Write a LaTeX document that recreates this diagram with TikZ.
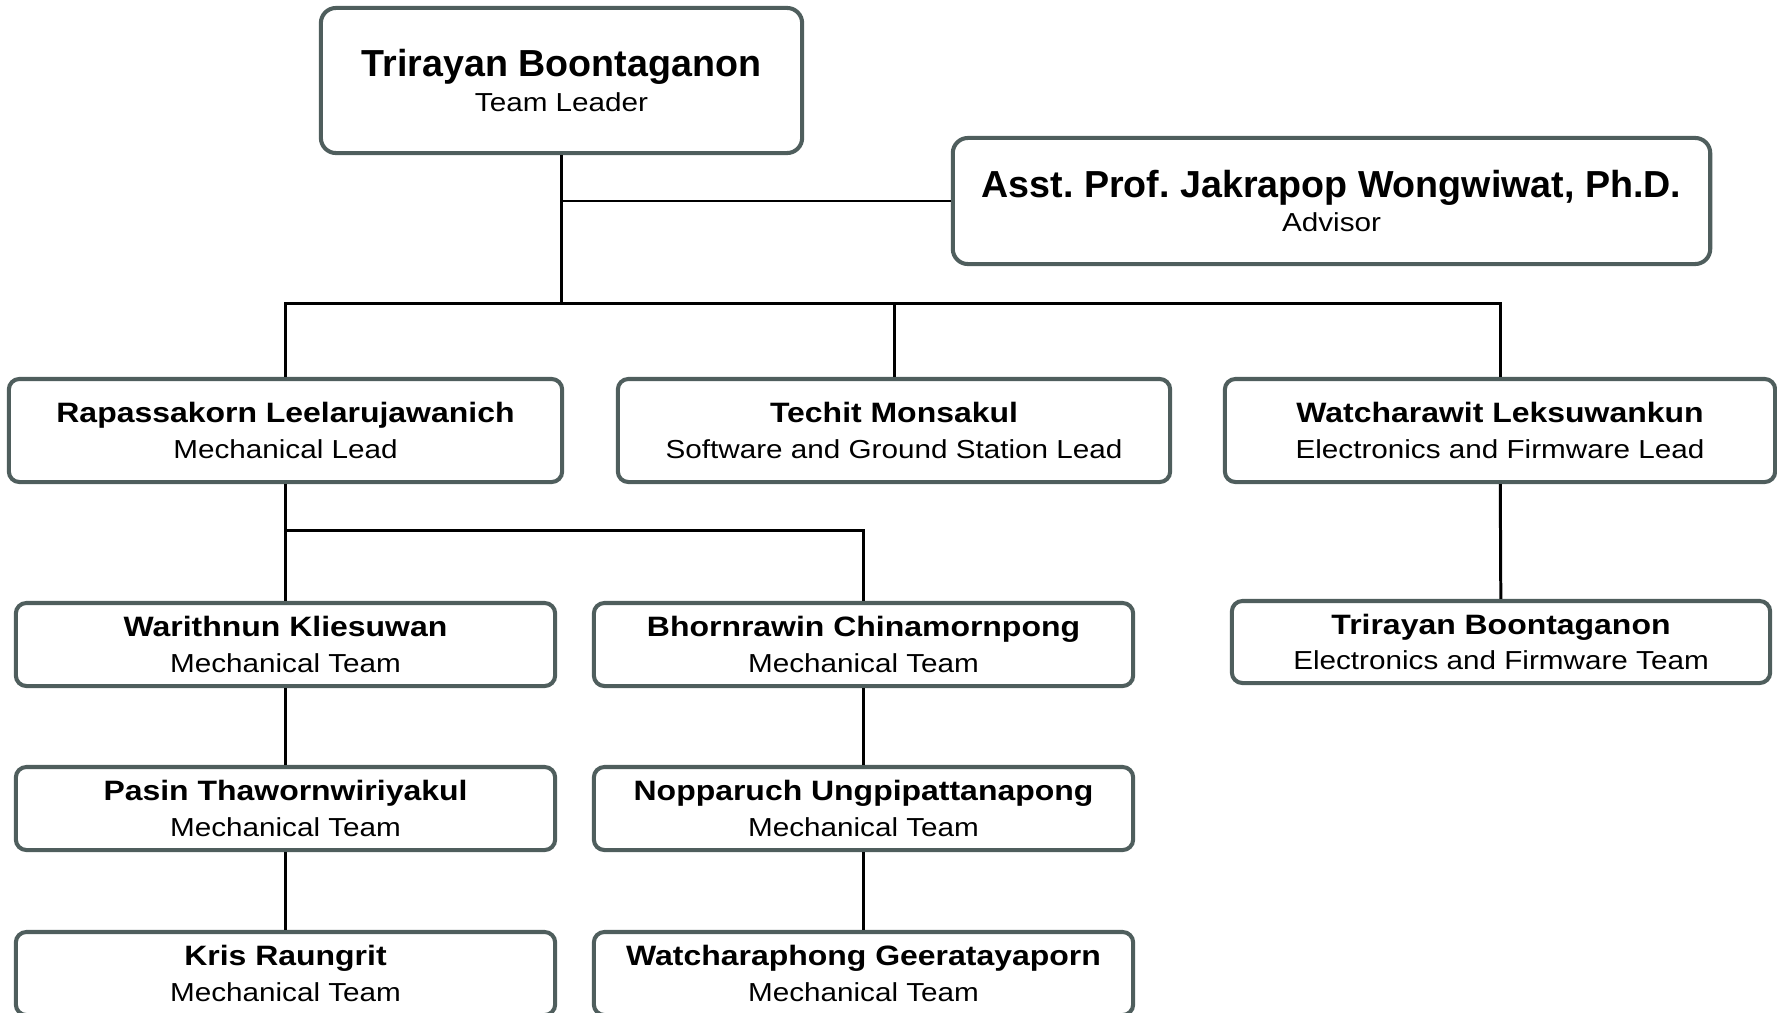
\documentclass[tikz,border=0pt]{standalone}
\usepackage{fontspec}
\setmainfont{Liberation Sans}
\newfontfamily\widefont[FakeStretch=1.14]{Liberation Sans}
\definecolor{boxgray}{HTML}{4F5E5D}
\frenchspacing
\begin{document}
\begin{tikzpicture}[x=0.01cm,y=-0.01cm,
    member/.style={draw=boxgray,line width=1.15pt,rounded corners=3pt,fill=white,align=center,inner sep=0pt,
        font=\widefont\fontsize{7.4}{10.2}\selectfont},
    head/.style={member,rounded corners=4.3pt,font=\widefont\fontsize{7.4}{9.9}\selectfont},
    link/.style={line width=0.85pt,black}]

    \def\nm#1{{\bfseries\fontsize{7.97}{10}\selectfont #1}}	%name line
    \def\hn#1{{\normalfont\bfseries\fontsize{10.7}{12}\selectfont #1}}	%name line, top boxes

    \useasboundingbox (0,0) rectangle (1777,1012);

    %TOP
    \node[head,minimum width=4.81cm,minimum height=1.45cm] (leader) at (561.5,80.5)
        {\hn{Trirayan Boontaganon}\\Team Leader};
    \node[head,minimum width=7.57cm,minimum height=1.26cm] (advisor) at (1331.5,201)
        {\hn{Asst. Prof. Jakrapop Wongwiwat, Ph.D.}\\Advisor};

    %LEADS
    \node[member,minimum width=5.53cm,minimum height=1.03cm] (mechlead) at (285.5,430.5)
        {\nm{Rapassakorn Leelarujawanich}\\Mechanical Lead};
    \node[member,minimum width=5.52cm,minimum height=1.03cm] (softlead) at (894,430.5)
        {\nm{Techit Monsakul}\\Software and Ground Station Lead};
    \node[member,minimum width=5.50cm,minimum height=1.03cm] (eleclead) at (1500,430.5)
        {\nm{Watcharawit Leksuwankun}\\Electronics and Firmware Lead};

    %TEAMS
    \node[member,minimum width=5.39cm,minimum height=0.83cm] (warithnun) at (285.5,644.5)
        {\nm{Warithnun Kliesuwan}\\Mechanical Team};
    \node[member,minimum width=5.39cm,minimum height=0.83cm] (pasin) at (285.5,808.5)
        {\nm{Pasin Thawornwiriyakul}\\Mechanical Team};
    \node[member,minimum width=5.39cm,minimum height=0.83cm] (kris) at (285.5,973.5)
        {\nm{Kris Raungrit}\\Mechanical Team};
    \node[member,minimum width=5.39cm,minimum height=0.83cm] (bhornrawin) at (863.5,644.5)
        {\nm{Bhornrawin Chinamornpong}\\Mechanical Team};
    \node[member,minimum width=5.39cm,minimum height=0.83cm] (nopparuch) at (863.5,808.5)
        {\nm{Nopparuch Ungpipattanapong}\\Mechanical Team};
    \node[member,minimum width=5.39cm,minimum height=0.83cm] (watcharaphong) at (863.5,973.5)
        {\nm{Watcharaphong Geeratayaporn}\\Mechanical Team};
    \node[member,minimum width=5.38cm,minimum height=0.82cm] (trirayan) at (1501,642)
        {\nm{Trirayan Boontaganon}\\Electronics and Firmware Team};

    %LINKS
    \coordinate (split) at (561.5,303);
    \coordinate (mechsplit) at (285.5,530);
    \draw[link] (leader.south) -- (split);
    \draw[link] (advisor.west) -- (advisor.west -| leader.south);
    \draw[link] (mechlead.north) -- (mechlead.north |- split) -- (eleclead.north |- split) -- (eleclead.north);
    \draw[link] (softlead.north) -- (softlead.north |- split);
    \draw[link] (mechsplit) -| (bhornrawin.north);
    \foreach \a/\b in {mechlead/warithnun,warithnun/pasin,pasin/kris,
        bhornrawin/nopparuch,nopparuch/watcharaphong,eleclead/trirayan}{
        \draw[link] (\a) -- (\b);
    } %end of links
\end{tikzpicture}
\end{document}
